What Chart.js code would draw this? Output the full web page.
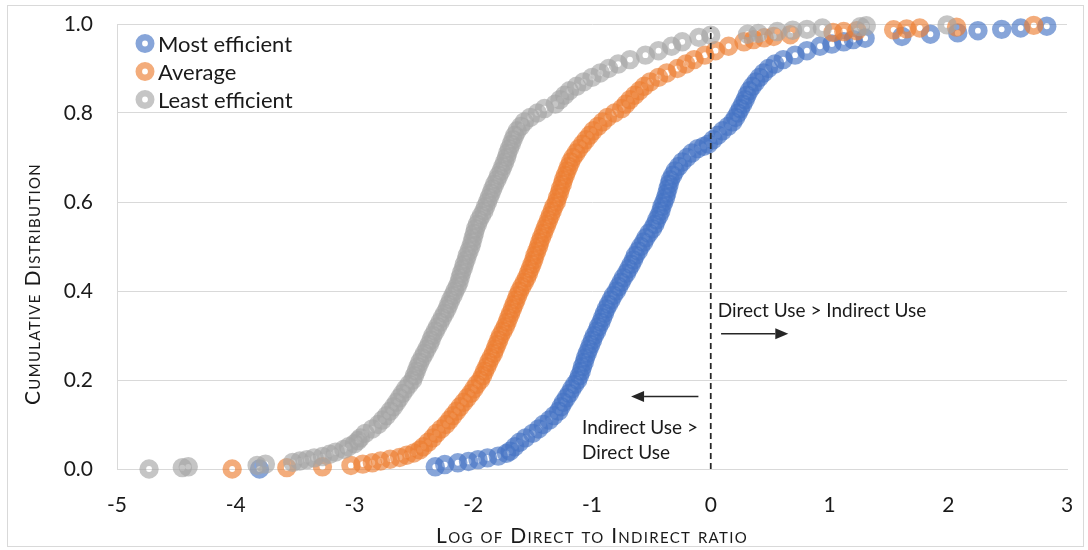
<!DOCTYPE html>
<html>
<head>
<meta charset="utf-8">
<script src="https://cdn.jsdelivr.net/npm/chart.js@4.4.1/dist/chart.umd.min.js"></script>
<style>
  html, body { margin: 0; padding: 0; background: #fff; }
  #wrap { width: 1088px; height: 550px; }
</style>
</head>
<body>
<div id="wrap"><canvas id="cdfChart" width="1088" height="550"></canvas></div>
<script>
'use strict'

// each row: [log of direct to indirect ratio, cumulative distribution]
const mostEfficient = [
  [-3.80, 0.000], [-2.32, 0.005], [-2.24, 0.010], [-2.13, 0.014], [-2.04, 0.017],
  [-1.96, 0.021], [-1.88, 0.025], [-1.79, 0.029], [-1.72, 0.035], [-1.69, 0.04],
  [-1.65, 0.05], [-1.61, 0.06], [-1.56, 0.07], [-1.50, 0.08], [-1.45, 0.09],
  [-1.41, 0.10], [-1.36, 0.11], [-1.32, 0.12], [-1.28, 0.13], [-1.26, 0.14],
  [-1.24, 0.15], [-1.215, 0.16], [-1.19, 0.17], [-1.17, 0.18], [-1.145, 0.19],
  [-1.12, 0.20], [-1.105, 0.21], [-1.09, 0.22], [-1.08, 0.23], [-1.065, 0.24],
  [-1.055, 0.25], [-1.04, 0.26], [-1.025, 0.27], [-1.01, 0.28], [-0.995, 0.29],
  [-0.98, 0.30], [-0.96, 0.31], [-0.945, 0.32], [-0.925, 0.33], [-0.91, 0.34],
  [-0.895, 0.35], [-0.88, 0.36], [-0.86, 0.37], [-0.84, 0.38], [-0.82, 0.39],
  [-0.795, 0.40], [-0.775, 0.41], [-0.755, 0.42], [-0.735, 0.43], [-0.71, 0.44],
  [-0.69, 0.45], [-0.67, 0.46], [-0.65, 0.47], [-0.635, 0.48], [-0.61, 0.49],
  [-0.59, 0.50], [-0.565, 0.51], [-0.545, 0.52], [-0.52, 0.53], [-0.49, 0.54],
  [-0.47, 0.55], [-0.455, 0.56], [-0.435, 0.57], [-0.42, 0.58], [-0.41, 0.59],
  [-0.395, 0.60], [-0.38, 0.61], [-0.37, 0.62], [-0.36, 0.63], [-0.35, 0.64],
  [-0.34, 0.65], [-0.32, 0.66], [-0.30, 0.67], [-0.27, 0.68], [-0.24, 0.69],
  [-0.20, 0.70], [-0.16, 0.71], [-0.11, 0.72], [-0.06, 0.725], [-0.02, 0.73],
  [0.02, 0.74], [0.06, 0.75], [0.10, 0.76], [0.145, 0.77], [0.185, 0.78],
  [0.21, 0.79], [0.23, 0.80], [0.25, 0.81], [0.27, 0.82], [0.29, 0.83],
  [0.305, 0.84], [0.325, 0.85], [0.35, 0.86], [0.38, 0.87], [0.41, 0.88],
  [0.445, 0.89], [0.485, 0.90], [0.54, 0.91], [0.61, 0.92], [0.71, 0.93],
  [0.81, 0.94], [0.92, 0.95], [1.02, 0.955], [1.12, 0.960], [1.20, 0.965],
  [1.30, 0.968], [1.61, 0.972], [1.85, 0.977], [2.08, 0.980], [2.25, 0.985],
  [2.45, 0.988], [2.61, 0.991], [2.83, 0.995]
];

const average = [
  [-4.03, 0.000], [-3.57, 0.003], [-3.27, 0.005], [-3.03, 0.008], [-2.93, 0.011],
  [-2.85, 0.014], [-2.78, 0.018], [-2.70, 0.022], [-2.62, 0.026], [-2.56, 0.031],
  [-2.50, 0.036], [-2.45, 0.043], [-2.42, 0.05], [-2.38, 0.06], [-2.34, 0.07],
  [-2.31, 0.08], [-2.27, 0.09], [-2.23, 0.10], [-2.20, 0.11], [-2.17, 0.12],
  [-2.14, 0.13], [-2.11, 0.14], [-2.08, 0.15], [-2.05, 0.16], [-2.02, 0.17],
  [-1.995, 0.18], [-1.97, 0.19], [-1.94, 0.20], [-1.92, 0.21], [-1.905, 0.22],
  [-1.885, 0.23], [-1.87, 0.24], [-1.85, 0.25], [-1.83, 0.26], [-1.815, 0.27],
  [-1.80, 0.28], [-1.785, 0.29], [-1.77, 0.30], [-1.75, 0.31], [-1.73, 0.32],
  [-1.715, 0.33], [-1.70, 0.34], [-1.685, 0.35], [-1.67, 0.36], [-1.655, 0.37],
  [-1.64, 0.38], [-1.625, 0.39], [-1.61, 0.40], [-1.59, 0.41], [-1.57, 0.42],
  [-1.55, 0.43], [-1.535, 0.44], [-1.52, 0.45], [-1.505, 0.46], [-1.49, 0.47],
  [-1.48, 0.48], [-1.465, 0.49], [-1.45, 0.50], [-1.44, 0.51], [-1.425, 0.52],
  [-1.41, 0.53], [-1.395, 0.54], [-1.38, 0.55], [-1.365, 0.56], [-1.35, 0.57],
  [-1.335, 0.58], [-1.32, 0.59], [-1.30, 0.60], [-1.29, 0.61], [-1.275, 0.62],
  [-1.265, 0.63], [-1.25, 0.64], [-1.24, 0.65], [-1.225, 0.66], [-1.21, 0.67],
  [-1.195, 0.68], [-1.18, 0.69], [-1.16, 0.70], [-1.135, 0.71], [-1.11, 0.72],
  [-1.08, 0.73], [-1.05, 0.74], [-1.02, 0.75], [-0.99, 0.76], [-0.95, 0.77],
  [-0.91, 0.78], [-0.87, 0.79], [-0.81, 0.80], [-0.75, 0.81], [-0.715, 0.82],
  [-0.68, 0.83], [-0.64, 0.84], [-0.60, 0.85], [-0.56, 0.86], [-0.51, 0.87],
  [-0.44, 0.88], [-0.37, 0.89], [-0.28, 0.90], [-0.21, 0.91], [-0.14, 0.92],
  [-0.05, 0.93], [0.04, 0.94], [0.15, 0.95], [0.28, 0.96], [0.36, 0.965],
  [0.45, 0.969], [0.53, 0.972], [0.67, 0.976], [1.03, 0.981], [1.12, 0.983],
  [1.23, 0.985], [1.54, 0.987], [1.65, 0.989], [1.76, 0.991], [2.07, 0.993],
  [2.72, 0.997]
];

const leastEfficient = [
  [-4.73, 0.000], [-4.45, 0.003], [-4.40, 0.005], [-3.82, 0.008], [-3.75, 0.011],
  [-3.52, 0.015], [-3.46, 0.018], [-3.40, 0.021], [-3.34, 0.025], [-3.27, 0.028],
  [-3.21, 0.033], [-3.16, 0.038], [-3.09, 0.044], [-3.05, 0.05], [-3.00, 0.057],
  [-2.97, 0.064], [-2.95, 0.07], [-2.91, 0.08], [-2.85, 0.09], [-2.80, 0.10],
  [-2.765, 0.11], [-2.73, 0.12], [-2.70, 0.13], [-2.67, 0.14], [-2.645, 0.15],
  [-2.62, 0.16], [-2.595, 0.17], [-2.57, 0.18], [-2.54, 0.19], [-2.51, 0.20],
  [-2.495, 0.21], [-2.48, 0.22], [-2.465, 0.23], [-2.45, 0.24], [-2.43, 0.25],
  [-2.41, 0.26], [-2.39, 0.27], [-2.37, 0.28], [-2.355, 0.29], [-2.34, 0.30],
  [-2.32, 0.31], [-2.30, 0.32], [-2.28, 0.33], [-2.26, 0.34], [-2.24, 0.35],
  [-2.22, 0.36], [-2.205, 0.37], [-2.19, 0.38], [-2.17, 0.39], [-2.155, 0.40],
  [-2.135, 0.41], [-2.12, 0.42], [-2.11, 0.43], [-2.10, 0.44], [-2.085, 0.45],
  [-2.075, 0.46], [-2.06, 0.47], [-2.05, 0.48], [-2.035, 0.49], [-2.02, 0.50],
  [-2.01, 0.51], [-2.00, 0.52], [-1.99, 0.53], [-1.98, 0.54], [-1.965, 0.55],
  [-1.95, 0.56], [-1.93, 0.57], [-1.91, 0.58], [-1.895, 0.59], [-1.88, 0.60],
  [-1.865, 0.61], [-1.85, 0.62], [-1.835, 0.63], [-1.82, 0.64], [-1.80, 0.65],
  [-1.785, 0.66], [-1.765, 0.67], [-1.75, 0.68], [-1.735, 0.69], [-1.72, 0.70],
  [-1.71, 0.71], [-1.695, 0.72], [-1.68, 0.73], [-1.665, 0.74], [-1.65, 0.75],
  [-1.63, 0.76], [-1.60, 0.77], [-1.57, 0.78], [-1.52, 0.79], [-1.46, 0.80],
  [-1.40, 0.81], [-1.31, 0.82], [-1.27, 0.83], [-1.23, 0.84], [-1.19, 0.85],
  [-1.13, 0.86], [-1.07, 0.87], [-1.00, 0.88], [-0.93, 0.89], [-0.86, 0.90],
  [-0.78, 0.91], [-0.68, 0.92], [-0.55, 0.93], [-0.44, 0.94], [-0.33, 0.95],
  [-0.24, 0.96], [-0.10, 0.97], [0.00, 0.975], [0.31, 0.977], [0.40, 0.979],
  [0.56, 0.983], [0.69, 0.986], [0.81, 0.988], [0.94, 0.991], [1.26, 0.994],
  [1.31, 0.996], [1.99, 0.998]
];

const seriesNames = ['Most efficient', 'Average', 'Least efficient'];
const seriesColors = ['68, 114, 196', '237, 125, 49', '165, 165, 165'];

const xTickValues = [-5, -4, -3, -2, -1, 0, 1, 2, 3];
const xTickLabels = ['-5', '-4', '-3', '-2', '-1', '0', '1', '2', '3'];
const yTickValues = [0, 0.2, 0.4, 0.6, 0.8, 1.0];
const yTickLabels = ['0.0', '0.2', '0.4', '0.6', '0.8', '1.0'];

const xTitle = 'Log of Direct to Indirect ratio';
const yTitle = 'Cumulative Distribution';
const rightNote = 'Direct Use > Indirect Use';
const leftNote = ['Indirect Use >', 'Direct Use'];

const FONT = 'Lato, Carlito, "Open Sans", sans-serif';
const TEXT = '#1a1a1a';
const GRID = '#d9d9d9';

function ring( i )
{
  return 'rgba(' + seriesColors[i] + ', 0.64)';
}

function arrow( ctx, fromX, toX, atY )
{
  let dir = toX > fromX ? 1 : -1;
  let head = 13;

  ctx.beginPath();
  ctx.moveTo(fromX, atY);
  ctx.lineTo(toX - dir * head, atY);
  ctx.stroke();

  ctx.beginPath();
  ctx.moveTo(toX, atY);
  ctx.lineTo(toX - dir * head, atY - 5.5);
  ctx.lineTo(toX - dir * head, atY + 5.5);
  ctx.closePath();
  ctx.fill();
}

//sin relleno extra alrededor de las escalas
function noPadding( s )
{
  s.paddingTop = 0;
  s.paddingBottom = 0;
  s.paddingLeft = 0;
  s.paddingRight = 0;
}

//fondo blanco y marco exterior
const frame =
{
  id: 'frame',
  beforeDraw( chart )
  {
    let ctx = chart.ctx;
    ctx.save();
    ctx.fillStyle = '#fff';
    ctx.fillRect(0, 0, chart.width, chart.height);
    ctx.restore();
  },
  afterDraw( chart )
  {
    let ctx = chart.ctx;
    ctx.save();
    ctx.strokeStyle = GRID;
    ctx.lineWidth = 1;
    ctx.strokeRect(7.5, 5.5, 1076, 541);
    ctx.restore();
  }
};

//linea punteada, flechas y notas
const notes =
{
  id: 'notes',
  afterDatasetsDraw( chart )
  {
    let { ctx, scales: { x, y } } = chart;
    ctx.save();

    ctx.strokeStyle = '#262626';
    ctx.lineWidth = 1.75;
    ctx.setLineDash([6, 4]);
    ctx.beginPath();
    ctx.moveTo(x.getPixelForValue(0), y.getPixelForValue(0));
    ctx.lineTo(x.getPixelForValue(0), y.getPixelForValue(0.992));
    ctx.stroke();
    ctx.setLineDash([]);

    ctx.lineWidth = 1.5;
    ctx.fillStyle = '#262626';
    arrow(ctx, x.getPixelForValue(0.087), x.getPixelForValue(0.653), y.getPixelForValue(0.304));
    arrow(ctx, x.getPixelForValue(-0.104), x.getPixelForValue(-0.671), y.getPixelForValue(0.163));

    ctx.fillStyle = TEXT;
    ctx.font = '19px ' + FONT;
    ctx.textAlign = 'left';
    ctx.textBaseline = 'middle';
    ctx.fillText(rightNote, x.getPixelForValue(0.058), y.getPixelForValue(0.356));
    ctx.fillText(leftNote[0], x.getPixelForValue(-1.084), y.getPixelForValue(0.093));
    ctx.fillText(leftNote[1], x.getPixelForValue(-1.084), y.getPixelForValue(0.037));

    ctx.restore();
  }
};

//leyenda dentro del area y titulos en versalitas
const labels =
{
  id: 'labels',
  afterDraw( chart )
  {
    let ctx = chart.ctx;
    ctx.save();

    ctx.textAlign = 'left';
    ctx.textBaseline = 'middle';
    ctx.font = '22px ' + FONT;
    seriesNames.forEach((name, i) =>
    {
      let cy = 43.5 + i * 28;
      ctx.beginPath();
      ctx.arc(145, cy, 6.2, 0, Math.PI * 2);
      ctx.strokeStyle = ring(i);
      ctx.lineWidth = 6.6;
      ctx.stroke();
      ctx.fillStyle = TEXT;
      ctx.fillText(name, 158, cy + 1);
    });

    ctx.font = 'small-caps 21px ' + FONT;
    ctx.letterSpacing = '1.3px';
    ctx.textAlign = 'center';
    let area = chart.chartArea;
    ctx.fillText(xTitle, (area.left + area.right) / 2, 536);

    ctx.translate(33, 284);
    ctx.rotate(-Math.PI / 2);
    ctx.fillText(yTitle, 0, 0);

    ctx.restore();
  }
};

const datasets = [mostEfficient, average, leastEfficient].map((rows, i) => (
{
  label: seriesNames[i],
  data: rows.map(r => ({ x: r[0], y: r[1] })),
  pointBorderColor: ring(i),
  pointBackgroundColor: 'rgba(0, 0, 0, 0)',
  pointRadius: 6.3,
  pointBorderWidth: 6.8,
  pointHoverRadius: 6.3,
  showLine: false,
  clip: false,
  order: 2 - i
}));

const tickFont = { family: FONT, size: 21 };

new Chart(document.getElementById('cdfChart'),
{
  type: 'scatter',
  data: { datasets: datasets },
  options:
  {
    responsive: false,
    animation: false,
    events: [],
    devicePixelRatio: 1,
    layout: { padding: { top: 24, right: 21, left: 0, bottom: 0 } },
    plugins:
    {
      legend: { display: false },
      tooltip: { enabled: false }
    },
    scales:
    {
      x:
      {
        type: 'linear',
        min: -5,
        max: 3,
        afterBuildTicks: s => { s.ticks = xTickValues.map(v => ({ value: v })); },
        afterFit: s => { s.height = 81; noPadding(s); },
        grid: { display: false, drawTicks: false },
        border: { display: true, color: GRID, width: 1 },
        ticks:
        {
          padding: 24,
          color: TEXT,
          font: tickFont,
          maxRotation: 0,
          autoSkip: false,
          callback: (v, i) => xTickLabels[i]
        }
      },
      y:
      {
        type: 'linear',
        min: 0,
        max: 1,
        afterBuildTicks: s => { s.ticks = yTickValues.map(v => ({ value: v })); },
        afterFit: s => { s.width = 117; noPadding(s); },
        grid: { color: GRID, lineWidth: 1, drawTicks: false },
        border: { display: true, color: GRID, width: 1 },
        ticks:
        {
          padding: 24,
          color: TEXT,
          font: tickFont,
          autoSkip: false,
          callback: (v, i) => yTickLabels[i]
        }
      }
    }
  },
  plugins: [frame, notes, labels]
});
</script>
</body>
</html>
